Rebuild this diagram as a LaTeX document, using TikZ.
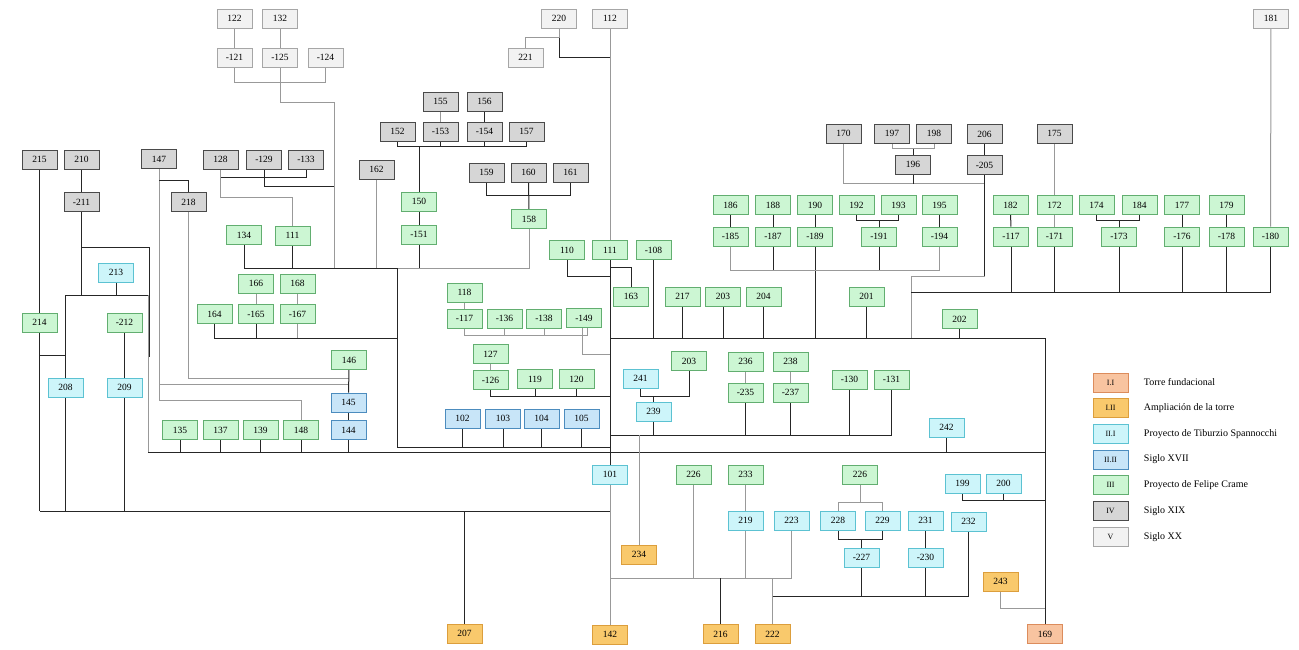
\documentclass[tikz,border=0pt]{standalone}
\usepackage{fontspec}
\setmainfont{Liberation Serif}
\usetikzlibrary{backgrounds}
\definecolor{TfFill}{HTML}{F8C4A0}
\definecolor{TfLine}{HTML}{DC8C5C}
\definecolor{AmFill}{HTML}{F9C96C}
\definecolor{AmLine}{HTML}{DC9E3C}
\definecolor{TbFill}{HTML}{CDF5FA}
\definecolor{TbLine}{HTML}{5CC2D2}
\definecolor{SvFill}{HTML}{C8E5F8}
\definecolor{SvLine}{HTML}{4C8CBE}
\definecolor{CrFill}{HTML}{CCF6D3}
\definecolor{CrLine}{HTML}{62AE70}
\definecolor{SxFill}{HTML}{D6D6D6}
\definecolor{SxLine}{HTML}{4A4A4A}
\definecolor{SzFill}{HTML}{F2F2F2}
\definecolor{SzLine}{HTML}{A6A6A6}
\tikzset{
  unit/.style={draw, minimum width=35pt, minimum height=19pt, inner sep=0pt,
    line width=0.8pt, font=\fontsize{9.5}{11}\selectfont},
  tfund/.style={unit, fill=TfFill, draw=TfLine},
  ampl/.style={unit, fill=AmFill, draw=AmLine},
  tibur/.style={unit, fill=TbFill, draw=TbLine},
  sxvii/.style={unit, fill=SvFill, draw=SvLine},
  crame/.style={unit, fill=CrFill, draw=CrLine},
  sxix/.style={unit, fill=SxFill, draw=SxLine},
  sxx/.style={unit, fill=SzFill, draw=SzLine},
  lk/.style={line width=1pt, draw=black!85},
  lg/.style={line width=1pt, draw=black!40},
}
\begin{document}
\begin{tikzpicture}[x=1pt, y=-1pt]
  \useasboundingbox (0,0) rectangle (1299,650);

  % Siglo XX
  \node[sxx] (u122) at (234.5,18.5) {122};
  \node[sxx] (u132) at (280,18.5) {132};
  \node[sxx] (um121) at (234.5,57.5) {-121};
  \node[sxx] (um125) at (280,57.5) {-125};
  \node[sxx] (um124) at (325.5,57.5) {-124};
  \node[sxx] (u220) at (559,18.5) {220};
  \node[sxx] (u112) at (610,18.5) {112};
  \node[sxx] (u221) at (525.5,57.5) {221};
  \node[sxx] (u181) at (1271,18.5) {181};

  % Siglo XIX
  \node[sxix] (u215) at (39.5,159.5) {215};
  \node[sxix] (u210) at (81.5,159.5) {210};
  \node[sxix] (um211) at (81.5,202) {-211};
  \node[sxix] (u147) at (159,159) {147};
  \node[sxix] (u218) at (188.5,202) {218};
  \node[sxix] (u128) at (220.5,159.5) {128};
  \node[sxix] (um129) at (264,159.5) {-129};
  \node[sxix] (um133) at (306,159.5) {-133};
  \node[sxix] (u155) at (440.5,101.5) {155};
  \node[sxix] (u156) at (484.5,101.5) {156};
  \node[sxix] (u152) at (397.5,131.5) {152};
  \node[sxix] (um153) at (440.5,131.5) {-153};
  \node[sxix] (um154) at (484.5,131.5) {-154};
  \node[sxix] (u157) at (526.5,131.5) {157};
  \node[sxix] (u162) at (376.5,169.5) {162};
  \node[sxix] (u159) at (486.5,172.5) {159};
  \node[sxix] (u160) at (528.5,172.5) {160};
  \node[sxix] (u161) at (570.5,172.5) {161};
  \node[sxix] (u170) at (843.5,133.5) {170};
  \node[sxix] (u197) at (892,133.5) {197};
  \node[sxix] (u198) at (934,133.5) {198};
  \node[sxix] (u196) at (913,164.5) {196};
  \node[sxix] (u206) at (984.5,134) {206};
  \node[sxix] (um205) at (984.5,165) {-205};
  \node[sxix] (u175) at (1054.5,133.5) {175};

  % Proyecto de Felipe Crame
  \node[crame] (u150) at (419,201.5) {150};
  \node[crame] (um151) at (419,234.5) {-151};
  \node[crame] (u158) at (529,219) {158};
  \node[crame] (u134) at (244,235) {134};
  \node[crame] (u111a) at (292.5,235.5) {111};
  \node[crame] (u166) at (256,283.5) {166};
  \node[crame] (u168) at (297.5,283.5) {168};
  \node[crame] (u164) at (214.5,314) {164};
  \node[crame] (um165) at (256,314) {-165};
  \node[crame] (um167) at (297.5,314) {-167};
  \node[crame] (u214) at (39.5,322.5) {214};
  \node[crame] (um212) at (124.5,322.5) {-212};
  \node[crame] (u135) at (180,430) {135};
  \node[crame] (u137) at (220.5,430) {137};
  \node[crame] (u139) at (260.5,430) {139};
  \node[crame] (u148) at (301,430) {148};
  \node[crame] (u146) at (349,360) {146};
  \node[crame] (u110) at (567,250) {110};
  \node[crame] (u111b) at (610,250) {111};
  \node[crame] (um108) at (653.5,250) {-108};
  \node[crame] (u163) at (631,296.5) {163};
  \node[crame] (u118) at (464.5,292.5) {118};
  \node[crame] (um117a) at (464.5,318.5) {-117};
  \node[crame] (um136) at (504.5,318.5) {-136};
  \node[crame] (um138) at (544,318.5) {-138};
  \node[crame] (um149) at (584,318) {-149};
  \node[crame] (u127) at (490.5,354) {127};
  \node[crame] (um126) at (490.5,380) {-126};
  \node[crame] (u119) at (535,379) {119};
  \node[crame] (u120) at (576.5,379) {120};
  \node[crame] (u186) at (730.5,205) {186};
  \node[crame] (u188) at (773,205) {188};
  \node[crame] (u190) at (815,205) {190};
  \node[crame] (u192) at (856.5,205) {192};
  \node[crame] (u193) at (898.5,205) {193};
  \node[crame] (u195) at (939.5,205) {195};
  \node[crame] (um185) at (730.5,236.5) {-185};
  \node[crame] (um187) at (773,236.5) {-187};
  \node[crame] (um189) at (815,236.5) {-189};
  \node[crame] (um191) at (879,236.5) {-191};
  \node[crame] (um194) at (939.5,236.5) {-194};
  \node[crame] (u182) at (1010.5,205) {182};
  \node[crame] (u172) at (1054.5,205) {172};
  \node[crame] (u174) at (1096.5,205) {174};
  \node[crame] (u184) at (1139.5,205) {184};
  \node[crame] (u177) at (1182,205) {177};
  \node[crame] (u179) at (1226.5,205) {179};
  \node[crame] (um117b) at (1011,236.5) {-117};
  \node[crame] (um171) at (1054.5,236.5) {-171};
  \node[crame] (um173) at (1119,236.5) {-173};
  \node[crame] (um176) at (1182,236.5) {-176};
  \node[crame] (um178) at (1226.5,236.5) {-178};
  \node[crame] (um180) at (1270.5,236.5) {-180};
  \node[crame] (u217) at (682.5,296.5) {217};
  \node[crame] (u203a) at (723,296.5) {203};
  \node[crame] (u204) at (763.5,296.5) {204};
  \node[crame] (u201) at (866.5,296.5) {201};
  \node[crame] (u202) at (959.5,319) {202};
  \node[crame] (u203b) at (689,361) {203};
  \node[crame] (u236) at (745.5,361.5) {236};
  \node[crame] (u238) at (790.5,361.5) {238};
  \node[crame] (um235) at (745.5,392.5) {-235};
  \node[crame] (um237) at (790.5,392.5) {-237};
  \node[crame] (um130) at (849.5,379.5) {-130};
  \node[crame] (um131) at (891.5,379.5) {-131};
  \node[crame] (u226a) at (693.5,474.5) {226};
  \node[crame] (u233) at (745.5,474.5) {233};
  \node[crame] (u226b) at (860,474.5) {226};

  % Proyecto de Tiburzio Spannocchi
  \node[tibur] (u213) at (116,272.5) {213};
  \node[tibur] (u208) at (65.5,387.5) {208};
  \node[tibur] (u209) at (124.5,387.5) {209};
  \node[tibur] (u241) at (640.5,378.5) {241};
  \node[tibur] (u239) at (653.5,411.5) {239};
  \node[tibur] (u242) at (946.5,427.5) {242};
  \node[tibur] (u101) at (610,474.5) {101};
  \node[tibur] (u199) at (962.5,483.5) {199};
  \node[tibur] (u200) at (1003.5,483.5) {200};
  \node[tibur] (u219) at (745.5,520.5) {219};
  \node[tibur] (u223) at (791.5,520.5) {223};
  \node[tibur] (u228) at (838,520.5) {228};
  \node[tibur] (u229) at (882.5,520.5) {229};
  \node[tibur] (u231) at (925.5,520.5) {231};
  \node[tibur] (u232) at (968.5,521.5) {232};
  \node[tibur] (um227) at (861.5,557.5) {-227};
  \node[tibur] (um230) at (925.5,557.5) {-230};

  % Siglo XVII
  \node[sxvii] (u145) at (348.5,402.5) {145};
  \node[sxvii] (u144) at (348.5,430) {144};
  \node[sxvii] (u102) at (462.5,418.5) {102};
  \node[sxvii] (u103) at (503,418.5) {103};
  \node[sxvii] (u104) at (541.5,418.5) {104};
  \node[sxvii] (u105) at (581.5,418.5) {105};

  % Torre
  \node[ampl] (u234) at (639,554.5) {234};
  \node[ampl] (u207) at (464.5,633.5) {207};
  \node[ampl] (u142) at (610,634.5) {142};
  \node[ampl] (u216) at (720.5,634) {216};
  \node[ampl] (u222) at (772.5,634) {222};
  \node[ampl] (u243) at (1000.5,581.5) {243};
  \node[tfund] (u169) at (1045,634) {169};

  % leyenda
  \foreach \lab/\sty/\txt [count=\i from 0] in {I.I/tfund/Torre fundacional,
      I.II/ampl/Ampliación de la torre, II.I/tibur/Proyecto de Tiburzio Spannocchi,
      II.II/sxvii/Siglo XVII, III/crame/Proyecto de Felipe Crame,
      IV/sxix/Siglo XIX, V/sxx/Siglo XX} {
    \node[\sty, font=\fontsize{8}{10}\selectfont] (ley\i) at (1110.5,{382.5+25.7*\i}) {\lab};
    \node[anchor=west, font=\fontsize{10}{12}\selectfont] (txt\i) at ([xshift=12pt]ley\i.east) {\txt};
  }

  \begin{pgfonlayer}{background}
    \fill[white] (0,0) rectangle (1299,650);
    % arriba a la izquierda
    \draw[lg] (u122) -- (um121);
    \draw[lg] (u132) -- (um125);
    \draw[lg] (um121.south) -- (um121.south |- 0,83) -| (um124.south);
    \draw[lg] (um125.south) |- (334,103) -- (334,268);
    \draw[lk] (u215) -- (u214);
    \draw[lk] (u214.south) -- (u214.south |- 0,511);
    \draw[lk] (u214.south |- 0,355) -| (u208.north);
    \draw[lk] (u210) -- (um211);
    \draw[lk] (um211.south) -- (um211.south |- 0,295);
    \draw[lk] (um211.south |- 0,247) -- (149,247) -- (149,357);
    \draw[lk] (u213.south) -- (u213.south |- 0,295);
    \draw[lk] (u208.north) |- (148,295);
    \draw[lg] (148,295) -- (148,452);
    \draw[lk] (um212) -- (u209);
    \draw[lk] (u208.south) -- (u208.south |- 0,511);
    \draw[lk] (u209.south) -- (u209.south |- 0,511);
    \draw[lk] (u214.south |- 0,511) -- (u101.south |- 0,511);
    \draw[lk] (u207.north) -- (u207.north |- 0,511);
    % 147 y 218
    \draw[lg] (u147.south) -- (u147.south |- 0,400) -| (u148.north);
    \draw[lk] (u147.south |- 0,181) -| (u218.north);
    \draw[lg] (u147.south |- 0,384) -- (u145.north |- 0,384);
    \draw[lg] (u218.south) |- (u145.north |- 0,378);
    % 128, 129, 133
    \draw[lg] (u128.south) |- (u111a.north |- 0,197) -- (u111a.north);
    \draw[lk] (um133.south) |- (u128.south |- 0,178);
    \draw[lk] (um129.south) |- (334,187);
    % barra 268
    \draw[lk] (u134.south) |- (397,268);
    \draw[lg] (397,268) -| (u158.south);
    \draw[lk] (u111a.south) -- (u111a.south |- 0,268);
    \draw[lg] (u162.south) -- (u162.south |- 0,268);
    \draw[lk] (um151.south) -- (um151.south |- 0,268);
    \draw[lk] (397,268) -- (397,447) -- (u101.north |- 0,447);
    % 152 a 161
    \draw[lg] (u155) -- (um153);
    \draw[lk] (u156) -- (um154);
    \draw[lk] (u152.south) -- (u152.south |- 0,147) -| (u157.south);
    \draw[lk] (um153.south) -- (um153.south |- 0,147);
    \draw[lk] (um154.south) -- (um154.south |- 0,147);
    \draw[lk] (u150.north) -- (u150.north |- 0,147);
    \draw[lk] (u150) -- (um151);
    \draw[lk] (u159.south) -- (u159.south |- 0,195) -| (u161.south);
    \draw[lk] (u160) -- (u158);
    % 164 a 168
    \draw[lg] (u166) -- (um165);
    \draw[lg] (u168) -- (um167);
    \draw[lk] (u164.south) |- (397,338);
    \draw[lk] (um165.south) -- (um165.south |- 0,338);
    \draw[lg] (um167.south) -- (um167.south |- 0,338);
    % 144 a 148
    \draw[lk] (u146) -- (u145);
    \draw[lk] (u145) -- (u144);
    \draw[lk] (u144.south) -- (u144.south |- 0,452);
    \draw[lk] (148,452) -- (u169.north |- 0,452);
    \foreach \n in {u135,u137,u139,u148}
      \draw[lk] (\n.south) -- (\n.south |- 0,452);
    \foreach \n in {u102,u103,u104,u105}
      \draw[lk] (\n.south) -- (\n.south |- 0,447);
    % eje central
    \draw[lg] (u220.south) -- (u220.south |- 0,38) -| (u221.north);
    \draw[lk] (u220.south |- 0,38) -- (u220.south |- 0,58) -- (u112.south |- 0,58);
    \draw[lg] (u112) -- (u111b);
    \draw[lk] (u111b) -- (u101);
    \draw[lg] (u101) -- (u142);
    \draw[lk] (u110.south) |- (u111b.south |- 0,276);
    \draw[lk] (u111b.south |- 0,267) -| (u163.north);
    \draw[lg] (u118) -- (um117a);
    \draw[lg] (um117a.south) -- (um117a.south |- 0,335) -- (587,335) -- (587,327.5);
    \foreach \n in {um136,um138}
      \draw[lg] (\n.south) -- (\n.south |- 0,335);
    \draw[lg] (582,327.5) |- (u111b.south |- 0,354);
    \draw[lg] (u127) -- (um126);
    \draw[lk] (um126.south) |- (u111b.south |- 0,396);
    \foreach \n in {u119,u120}
      \draw[lk] (\n.south) -- (\n.south |- 0,396);
    % barra 338 y derecha
    \draw[lk] (u111b.south |- 0,338) -- (u169.north |- 0,338) -- (u169.north);
    \foreach \n in {um108,u217,u203a,u204,u201,u202,um189}
      \draw[lk] (\n.south) -- (\n.south |- 0,338);
    \foreach \a/\b in {u186/um185,u188/um187,u190/um189,u195/um194}
      \draw[lk] (\a) -- (\b);
    \draw[lg] (um185.south) -- (um185.south |- 0,270) -| (um194.south);
    \foreach \n in {um187,um191}
      \draw[lk] (\n.south) -- (\n.south |- 0,270);
    \draw[lk] (u192.south) -- (u192.south |- 0,220) -| (u193.south);
    \draw[lk] (um191.north) -- (um191.north |- 0,220);
    \draw[lg] (u170.south) |- (um205.south |- 0,184);
    \draw[lk] (u196.south) -- (u196.south |- 0,184);
    \draw[lg] (u197.south) -- (u197.south |- 0,149) -| (u198.south);
    \draw[lk] (u196.north) -- (u196.north |- 0,149);
    \draw[lk] (u206) -- (um205);
    \draw[lk] (um205.south) -- (um205.south |- 0,276);
    \draw[lg] (um205.south |- 0,276) -| (911,338);
    \draw[lk] (911,292) -| (um180.south);
    \foreach \n in {um117b,um171,um173,um176,um178}
      \draw[lk] (\n.south) -- (\n.south |- 0,292);
    \draw[lg] (u181) -- (um180);
    \draw[lg] (u175) -- (u172);
    \draw[lg] (u172) -- (um171);
    \draw[lk] (u182) -- (um117b);
    \draw[lk] (u174.south) -- (u174.south |- 0,220) -| (u184.south);
    \draw[lk] (um173.north) -- (um173.north |- 0,220);
    \draw[lk] (u177) -- (um176);
    \draw[lk] (u179) -- (um178);
    % 235 a 242
    \draw[lk] (u241.south) |- (u203b.south |- 0,396) -- (u203b.south);
    \draw[lk] (u239.north) -- (u239.north |- 0,396);
    \draw[lk] (u111b.south |- 0,435) -| (um131.south);
    \foreach \n in {u239,um235,um237,um130}
      \draw[lk] (\n.south) -- (\n.south |- 0,435);
    \draw[lg] (u236) -- (um235);
    \draw[lg] (u238) -- (um237);
    \draw[lg] (u234.north |- 0,435) -- (u234.north);
    \draw[lk] (u242.south) -- (u242.south |- 0,452);
    % abajo
    \draw[lg] (u101.south |- 0,578) -| (u223.south);
    \foreach \n in {u226a,u219}
      \draw[lg] (\n.south) -- (\n.south |- 0,578);
    \draw[lg] (u233) -- (u219);
    \draw[lk] (u216.north) -- (u216.north |- 0,578);
    \draw[lg] (u222.north) -- (u222.north |- 0,578);
    \draw[lk] (u222.north |- 0,596) -| (u232.south);
    \foreach \n in {um227,um230}
      \draw[lk] (\n.south) -- (\n.south |- 0,596);
    \draw[lg] (u226b.south) -- (u226b.south |- 0,502);
    \draw[lg] (u228.north) |- (u229.north |- 0,502) -- (u229.north);
    \draw[lk] (u228.south) -- (u228.south |- 0,539) -| (u229.south);
    \draw[lk] (um227.north) -- (um227.north |- 0,539);
    \draw[lk] (u231) -- (um230);
    \draw[lk] (u199.south) -- (u199.south |- 0,500) -- (u169.north |- 0,500);
    \draw[lk] (u200.south) -- (u200.south |- 0,500);
    \draw[lg] (u243.south) |- (u169.north |- 0,608);
  \end{pgfonlayer}
\end{tikzpicture}
\end{document}
